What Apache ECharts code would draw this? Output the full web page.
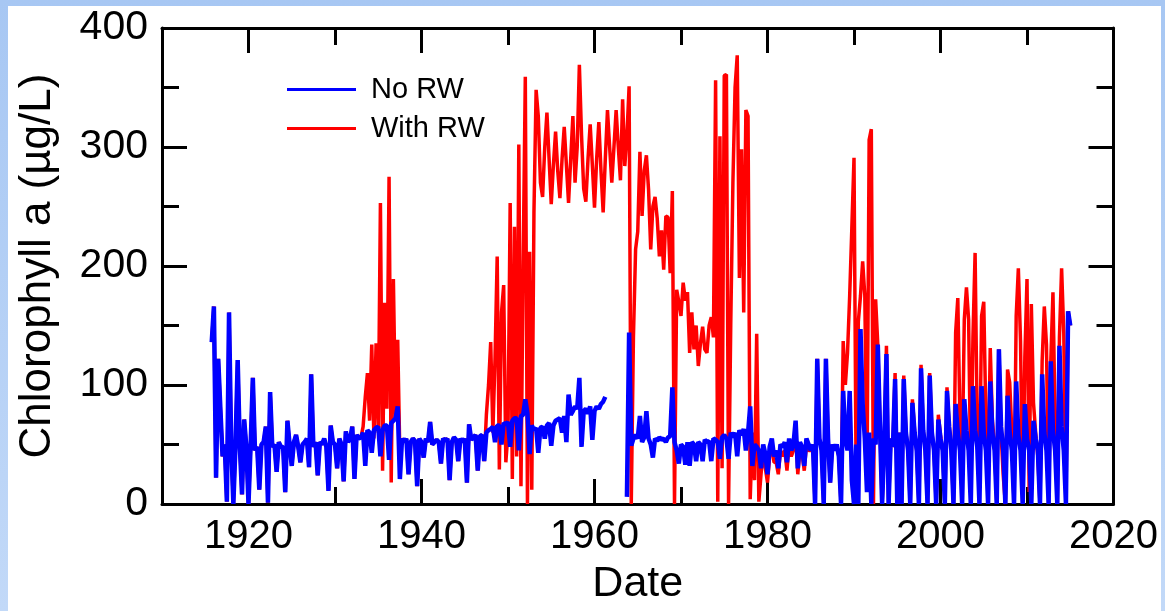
<!DOCTYPE html>
<html><head><meta charset="utf-8">
<script src="https://cdn.jsdelivr.net/npm/echarts@6/dist/echarts.min.js"></script>
<style>
html,body{margin:0;padding:0;width:1165px;height:611px;overflow:hidden;background:linear-gradient(to bottom,#a7c7f3,#c2d9f8);}
#chart{position:absolute;left:8px;top:6px;width:1153px;height:605px;background:#fff;}
</style></head><body><div id="chart"></div>
<script>
// quarterly samples starting at 1915.75
const startYear = 1915.75;
const stepYears = 0.25;
const xTickLabels = [1920, 1940, 1960, 1980, 2000, 2020];
const xMinorTicks = [1910, 1930, 1950, 1970, 1990, 2010];
const seriesNames = ['No RW', 'With RW'];

const noRW = [
 136,
 166, 22, 122, 80,   // 1916
 40, 50, 2, 161,     // 1917
 50, 0, 50, 121,     // 1918
 48, 8, 71, 48,      // 1919
 0, 50, 106, 45,     // 1920
 48, 12, 50, 52,     // 1921
 65, 1, 94, 48,      // 1922
 50, 27, 52, 48,     // 1923
 48, 10, 70, 50,     // 1924
 32, 52, 58, 48,     // 1925
 35, 50, 52, 55,     // 1926
 31, 109, 48, 52,    // 1927
 24, 52, 50, 55,     // 1928
 48, 11, 66, 52,     // 1929
 50, 30, 55, 50,     // 1930
 19, 61, 52, 55,     // 1931
 65, 21, 58, 55,     // 1932
 56, 60, 32, 62,     // 1933
 60, 43, 62, 64,     // 1934
 65, 40, 62, 66,     // 1935
 66, 37, 68, 70,     // 1936
 72, 82, 21, 55,     // 1937
 52, 55, 25, 52,     // 1938
 55, 53, 15, 55,     // 1939
 52, 39, 55, 52,     // 1940
 69, 50, 52, 54,     // 1941
 52, 34, 55, 53,     // 1942
 55, 20, 52, 56,     // 1943
 54, 36, 55, 52,     // 1944
 55, 18, 67, 54,     // 1945
 56, 58, 28, 57,     // 1946
 58, 36, 60, 62,     // 1947
 63, 65, 52, 66,     // 1948
 66, 50, 68, 67,     // 1949
 69, 48, 70, 72,     // 1950
 72, 45, 74, 75,     // 1951
 88, 76, 42, 66,     // 1952
 62, 64, 43, 64,     // 1953
 65, 55, 66, 68,     // 1954
 49, 66, 70, 71,     // 1955
 72, 60, 74, 52,     // 1956
 92, 75, 78, 82,     // 1957
 80, 106, 48, 78,    // 1958
 80, 76, 82, 54,     // 1959
 78, 82, 80, 84,     // 1960
 86, 90, null, null, // 1961
 null, null, null, null, // 1962
 null, null, null, 6,    // 1963
 144, 49, 55, 58,    // 1964
 55, 74, 52, 56,     // 1965
 78, 55, 50, 39,     // 1966
 55, 53, 56, 54,     // 1967
 55, 52, 56, 57,     // 1968
 98, 52, 45, 34,     // 1969
 50, 48, 33, 52,     // 1970
 32, 52, 50, 36,     // 1971
 52, 50, 36, 54,     // 1972
 52, 53, 36, 55,     // 1973
 54, 52, 38, 56,     // 1974
 58, 55, 38, 60,     // 1975
 56, 60, 40, 62,     // 1976
 58, 63, 45, 60,     // 1977
 82, 32, 50, 48,     // 1978
 45, 30, 50, 42,     // 1979
 25, 48, 55, 40,     // 1980
 45, 30, 50, 48,     // 1981
 52, 35, 55, 45,     // 1982
 50, 70, 30, 52,     // 1983
 48, 32, 55, 50,     // 1984
 45, 50, 0, 122,     // 1985
 55, 45, 0, 122,     // 1986
 55, 18, 50, 45,     // 1987
 50, 40, 0, 95,      // 1988
 55, 45, 95, 20,     // 1989
 0, 50, 0, 147,      // 1990
 84, 55, 10, 60,     // 1991
 0, 55, 50, 134,     // 1992
 65, 0, 50, 126,     // 1993
 0, 55, 48, 105,     // 1994
 0, 60, 0, 105,      // 1995
 60, 45, 0, 85,      // 1996
 60, 45, 0, 114,     // 1997
 62, 45, 0, 108,     // 1998
 60, 45, 0, 71,      // 1999
 55, 45, 0, 95,      // 2000
 65, 45, 0, 84,      // 2001
 60, 45, 0, 88,      // 2002
 62, 45, 0, 99,      // 2003
 62, 48, 0, 99,      // 2004
 60, 45, 0, 103,     // 2005
 60, 45, 0, 130,     // 2006
 65, 45, 0, 91,      // 2007
 60, 45, 0, 103,     // 2008
 58, 45, 0, 84,      // 2009
 55, 45, 0, 70,      // 2010
 55, 45, 0, 109,     // 2011
 60, 45, 0, 120,     // 2012
 62, 45, 0, 133,     // 2013
 65, 45, 0, 162,     // 2014
 150                 // 2015
];

const withRW = [
 136,
 166, 22, 122, 80,   // 1916
 40, 50, 2, 161,     // 1917
 50, 0, 50, 121,     // 1918
 48, 8, 71, 48,      // 1919
 0, 50, 106, 45,     // 1920
 48, 12, 50, 52,     // 1921
 65, 1, 94, 48,      // 1922
 50, 27, 52, 48,     // 1923
 48, 10, 70, 50,     // 1924
 32, 52, 58, 48,     // 1925
 35, 50, 52, 55,     // 1926
 31, 109, 48, 52,    // 1927
 24, 52, 50, 55,     // 1928
 48, 11, 66, 52,     // 1929
 50, 30, 55, 50,     // 1930
 19, 61, 52, 55,     // 1931
 65, 21, 58, 55,     // 1932
 56, 65, 90, 110,    // 1933
 70, 134, 55, 135,   // 1934
 60, 253, 28, 169,   // 1935
 80, 275, 18, 189,   // 1936
 72, 138, 40, 55,    // 1937
 52, 55, 25, 52,     // 1938
 55, 53, 15, 55,     // 1939
 52, 39, 55, 52,     // 1940
 69, 50, 52, 54,     // 1941
 52, 34, 55, 53,     // 1942
 55, 20, 52, 56,     // 1943
 54, 36, 55, 52,     // 1944
 55, 18, 67, 54,     // 1945
 56, 58, 28, 57,     // 1946
 58, 36, 75, 100,    // 1947
 136, 60, 122, 208,  // 1948
 29, 161, 184, 35,   // 1949
 60, 253, 21, 233,   // 1950
 40, 302, 15, 200,   // 1951
 359, 0, 212, 12,    // 1952
 245, 348, 326, 270, // 1953
 258, 300, 329, 290, // 1954
 252, 285, 313, 280, // 1955
 257, 290, 317, 285, // 1956
 253, 290, 326, 270, // 1957
 300, 369, 310, 265, // 1958
 254, 290, 319, 285, // 1959
 249, 290, 321, 280, // 1960
 245, 290, 331, 300, // 1961
 270, 300, 331, 300, // 1962
 272, 340, 284, 310, // 1963
 351, 0, 140, 214,   // 1964
 229, 296, 242, 280, // 1965
 293, 264, 214, 250, // 1966
 258, 240, 208, 230, // 1967
 197, 242, 241, 194, // 1968
 263, 0, 180, 170,   // 1969
 158, 186, 171, 178, // 1970
 127, 161, 130, 150, // 1971
 116, 135, 149, 130, // 1972
 127, 150, 157, 140, // 1973
 356, 2, 309, 30,    // 1974
 360, 361, 0, 150,   // 1975
 270, 350, 377, 190, // 1976
 298, 161, 331, 326, // 1977
 4, 60, 20, 143,     // 1978
 2, 25, 45, 30,      // 1979
 18, 40, 50, 35,     // 1980
 35, 25, 45, 40,     // 1981
 45, 28, 50, 40,     // 1982
 45, 65, 25, 45,     // 1983
 42, 28, 50, 45,     // 1984
 45, 50, 0, 122,     // 1985
 55, 45, 0, 122,     // 1986
 55, 18, 50, 45,     // 1987
 50, 40, 0, 137,     // 1988
 100, 127, 175, 232, // 1989
 291, 15, 153, 175,  // 1990
 204, 175, 17, 306,  // 1991
 315, 0, 172, 134,   // 1992
 65, 0, 50, 133,     // 1993
 0, 55, 48, 110,     // 1994
 0, 60, 0, 108,      // 1995
 60, 45, 0, 88,      // 1996
 62, 45, 0, 117,     // 1997
 62, 45, 0, 110,     // 1998
 60, 45, 0, 75,      // 1999
 58, 45, 0, 98,      // 2000
 65, 45, 0, 144,     // 2001
 173, 70, 30, 155,   // 2002
 182, 155, 20, 140,  // 2003
 211, 60, 18, 158,   // 2004
 170, 70, 20, 131,   // 2005
 70, 50, 0, 130,     // 2006
 60, 24, 0, 113,     // 2007
 102, 60, 0, 158,    // 2008
 198, 137, 0, 123,   // 2009
 189, 10, 168, 85,   // 2010
 60, 40, 0, 120,     // 2011
 166, 134, 0, 120,   // 2012
 178, 70, 0, 140,    // 2013
 198, 144, 0, 162,   // 2014
 150                 // 2015
];

const FONT = "'Liberation Sans', Arial, Helvetica, sans-serif";
const toPairs = arr => arr.map((v, i) => [startYear + i * stepYears, v]);
const plain = v => String(v);

const black = {color: '#000', width: 3};
function xAxisDef(position, ticks, len, withLine, withLabels) {
  return {
    type: 'value', position: position, min: 1910, max: 2020,
    axisLine: {show: withLine, onZero: false, lineStyle: black},
    axisTick: {show: true, inside: true, length: len, customValues: ticks, lineStyle: black},
    axisLabel: withLabels ? {show: true, customValues: xTickLabels, formatter: plain, fontSize: 40, color: '#000', margin: 13, fontFamily: FONT} : {show: false},
    splitLine: {show: false},
    name: withLabels ? 'Date' : '', nameLocation: 'middle', nameGap: 59,
    nameTextStyle: {fontSize: 43, color: '#000', fontFamily: FONT}
  };
}
function yAxisDef(position, withLabels) {
  return {
    type: 'value', position: position, min: 0, max: 400, interval: 100,
    axisLine: {show: true, onZero: false, lineStyle: black},
    axisTick: {show: true, inside: true, length: 25, lineStyle: black},
    minorTick: {show: true, splitNumber: 2, length: 17, lineStyle: black},
    axisLabel: withLabels ? {show: true, formatter: plain, fontSize: 41, color: '#000', margin: 14, fontFamily: FONT} : {show: false},
    splitLine: {show: false},
    name: withLabels ? 'Chlorophyll a (µg/L)' : '', nameLocation: 'middle', nameGap: 102,
    nameTextStyle: {fontSize: 44, color: '#000', fontFamily: FONT}
  };
}

const chart = echarts.init(document.getElementById('chart'), null, {renderer: 'canvas'});
chart.setOption({
  animation: false,
  backgroundColor: '#fff',
  grid: {left: 154, right: 44, top: 22, bottom: 106, containLabel: false},
  legend: {
    data: seriesNames, orient: 'vertical', left: 274, top: 64,
    icon: 'rect', itemWidth: 69, itemHeight: 3, itemGap: 10,
    textStyle: {fontSize: 29, color: '#000', fontFamily: FONT, padding: [0, 0, 0, 10]}
  },
  xAxis: [
    xAxisDef('bottom', xTickLabels, 25, true, true),
    xAxisDef('bottom', xMinorTicks, 17, false, false),
    xAxisDef('top', xTickLabels, 25, true, false),
    xAxisDef('top', xMinorTicks, 17, false, false)
  ],
  yAxis: [yAxisDef('left', true), yAxisDef('right', false)],
  series: [
    {name: seriesNames[1], type: 'line', data: toPairs(withRW), symbol: 'none', showSymbol: false,
     lineStyle: {color: '#ff0000', width: 3.5}, itemStyle: {color: '#ff0000'}, z: 2, connectNulls: false},
    {name: seriesNames[0], type: 'line', data: toPairs(noRW), symbol: 'none', showSymbol: false,
     lineStyle: {color: '#0000ff', width: 4.5}, itemStyle: {color: '#0000ff'}, z: 3, connectNulls: false}
  ]
});
</script></body></html>
